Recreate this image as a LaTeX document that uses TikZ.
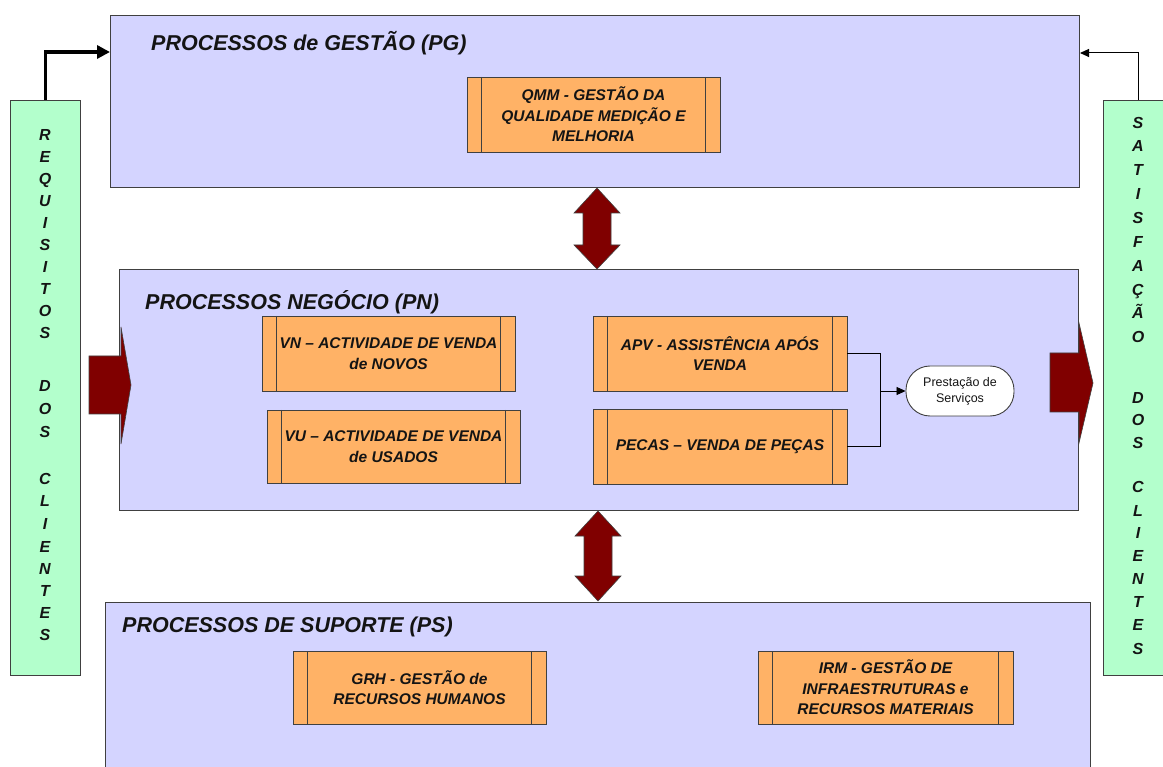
\documentclass[tikz,border=0pt]{standalone}
\usepackage{fontspec}
\setmainfont{Liberation Sans}
\usetikzlibrary{arrows.meta,calc}
\definecolor{lav}{RGB}{212,212,255}
\definecolor{mint}{RGB}{179,255,204}
\definecolor{orangebox}{RGB}{255,178,102}
\definecolor{darkred}{RGB}{128,0,0}
\definecolor{edge}{RGB}{64,64,64}
\definecolor{ink}{RGB}{20,20,20}
\begin{document}
\begin{tikzpicture}[x=1pt,y=-1pt,
  bigbox/.style={draw=edge, fill=lav, line width=1pt, anchor=north west, inner sep=0pt},
  bar/.style={draw=edge, fill=mint, line width=1pt, anchor=north west, inner sep=0pt},
  proc/.style={draw=edge, fill=orangebox, line width=0.9pt, inner sep=0pt, align=center,
    font=\fontsize{15.5}{20.5}\selectfont\bfseries\itshape, text=ink,
    path picture={\draw[edge, line width=0.9pt]
      ([xshift=14.5pt]path picture bounding box.north west) -- ([xshift=14.5pt]path picture bounding box.south west)
      ([xshift=-14.5pt]path picture bounding box.north east) -- ([xshift=-14.5pt]path picture bounding box.south east);}},
  title/.style={anchor=base west, font=\fontsize{21.5}{25}\selectfont\bfseries\itshape, text=ink, inner sep=0pt},
  letter/.style={anchor=base, font=\fontsize{16}{16}\selectfont\bfseries\itshape, text=ink, inner sep=0pt},
  blockarrow/.style={fill=darkred, draw=edge, line width=0.6pt},
  conn/.style={draw=black, line width=0.8pt},
]
\useasboundingbox (0,0) rectangle (1163,767);
\fill[white] (0,0) rectangle (1163,767);

% side bars
\node[bar, minimum width=70pt, minimum height=575pt] (req) at (10,100) {};
\node[bar, minimum width=75pt, minimum height=575pt] (sat) at (1103,100) {};

% main boxes
\node[bigbox, minimum width=969pt, minimum height=172pt] (pg) at (110,15) {};
\node[bigbox, minimum width=959pt, minimum height=241pt] (pn) at (119,269) {};
\node[bigbox, minimum width=985pt, minimum height=185pt] (ps) at (105,602) {};

% titles
\node[title] (tpg) at (151,51) {PROCESSOS de GESTÃO (PG)};
\node[title] (tpn) at (145,310) {PROCESSOS NEGÓCIO (PN)};
\node[title] (tps) at (122,632) {PROCESSOS DE SUPORTE (PS)};

% process boxes
\node[proc, minimum width=253pt, minimum height=75pt] (qmm) at (593.5,114.5) {QMM - GESTÃO DA\\QUALIDADE MEDIÇÃO E\\MELHORIA};
\node[proc, minimum width=253pt, minimum height=75pt] (vn) at (388.5,353.5) {VN – ACTIVIDADE DE VENDA\\de NOVOS};
\node[proc, minimum width=253pt, minimum height=73pt] (vu) at (393.5,446.5) {VU – ACTIVIDADE DE VENDA\\de USADOS};
\node[proc, minimum width=254pt, minimum height=75pt] (apv) at (720,353.5) {APV - ASSISTÊNCIA APÓS\\VENDA};
\node[proc, minimum width=254pt, minimum height=75pt] (pecas) at (720,446.5) {PECAS – VENDA DE PEÇAS};
\node[proc, minimum width=253pt, minimum height=73pt] (grh) at (419.5,687.5) {GRH - GESTÃO de\\RECURSOS HUMANOS};
\node[proc, minimum width=255pt, minimum height=73pt] (irm) at (885.5,687.5) {IRM - GESTÃO DE\\INFRAESTRUTURAS e\\RECURSOS MATERIAIS};

% prestacao
\node[draw=edge, fill=white, line width=0.9pt, rounded corners=24pt, minimum width=108pt, minimum height=50pt,
  align=center, font=\fontsize{12.5}{16}\selectfont, text=ink, inner sep=0pt] (pres) at (960,391) {Prestação de\\Serviços};

\draw[conn] (apv.east) -- ++(33,0) coordinate (j1) |- (pecas.east);
\draw[conn, -{Triangle[length=9pt,width=8pt]}] (j1 |- pres.west) -- (pres.west);

% vertical letters
\foreach \l/\yy [count=\i] in {R/135,E/157,Q/179,U/201,I/223,S/245,I/267,T/289,O/311,S/333,D/386,O/409,S/432,C/478,L/500,I/523,E/546,N/568,T/590,E/612,S/634}
  \node[letter] (rq\i) at (45,\yy+6) {\l};
\foreach \l/\yy [count=\i] in {S/123,A/146,T/170,I/194,S/218,F/242,A/266,Ç/290,Ã/313,O/337,D/398,O/420,S/443,C/487,L/510,I/532,E/555,N/578,T/601,E/624,S/648}
  \node[letter] (st\i) at (1138,\yy+6) {\l};

% side arrows into PG
\coordinate (pgin) at (pg.west |- 0,52);
\coordinate (pgout) at (pg.east |- 0,53);
\draw[line width=3.5pt, -{Triangle[length=13pt,width=13pt]}] (req.north) |- (pgin);
\draw[line width=1pt, -{Triangle[length=9pt,width=8pt]}] (sat.north -| 1138,0) |- (pgout);

% double arrows between layers
\draw[blockarrow] (597,188) -- (620,213) -- (611,213) -- (611,245) -- (620,245) -- (597,269) -- (574,245) -- (583,245) -- (583,213) -- (574,213) -- cycle;
\draw[blockarrow] (598,511) -- (621,536) -- (612,536) -- (612,576) -- (621,576) -- (598,601) -- (575,576) -- (584,576) -- (584,536) -- (575,536) -- cycle;

% big input/output arrows
\draw[blockarrow] (89,356) -- (121,356) -- (121,327) -- (131,385) -- (121,444) -- (121,414) -- (89,414) -- cycle;
\draw[blockarrow] (1050,353) -- (1079,353) -- (1079,323) -- (1093,383) -- (1079,443) -- (1079,412) -- (1050,412) -- cycle;
\end{tikzpicture}
\end{document}
